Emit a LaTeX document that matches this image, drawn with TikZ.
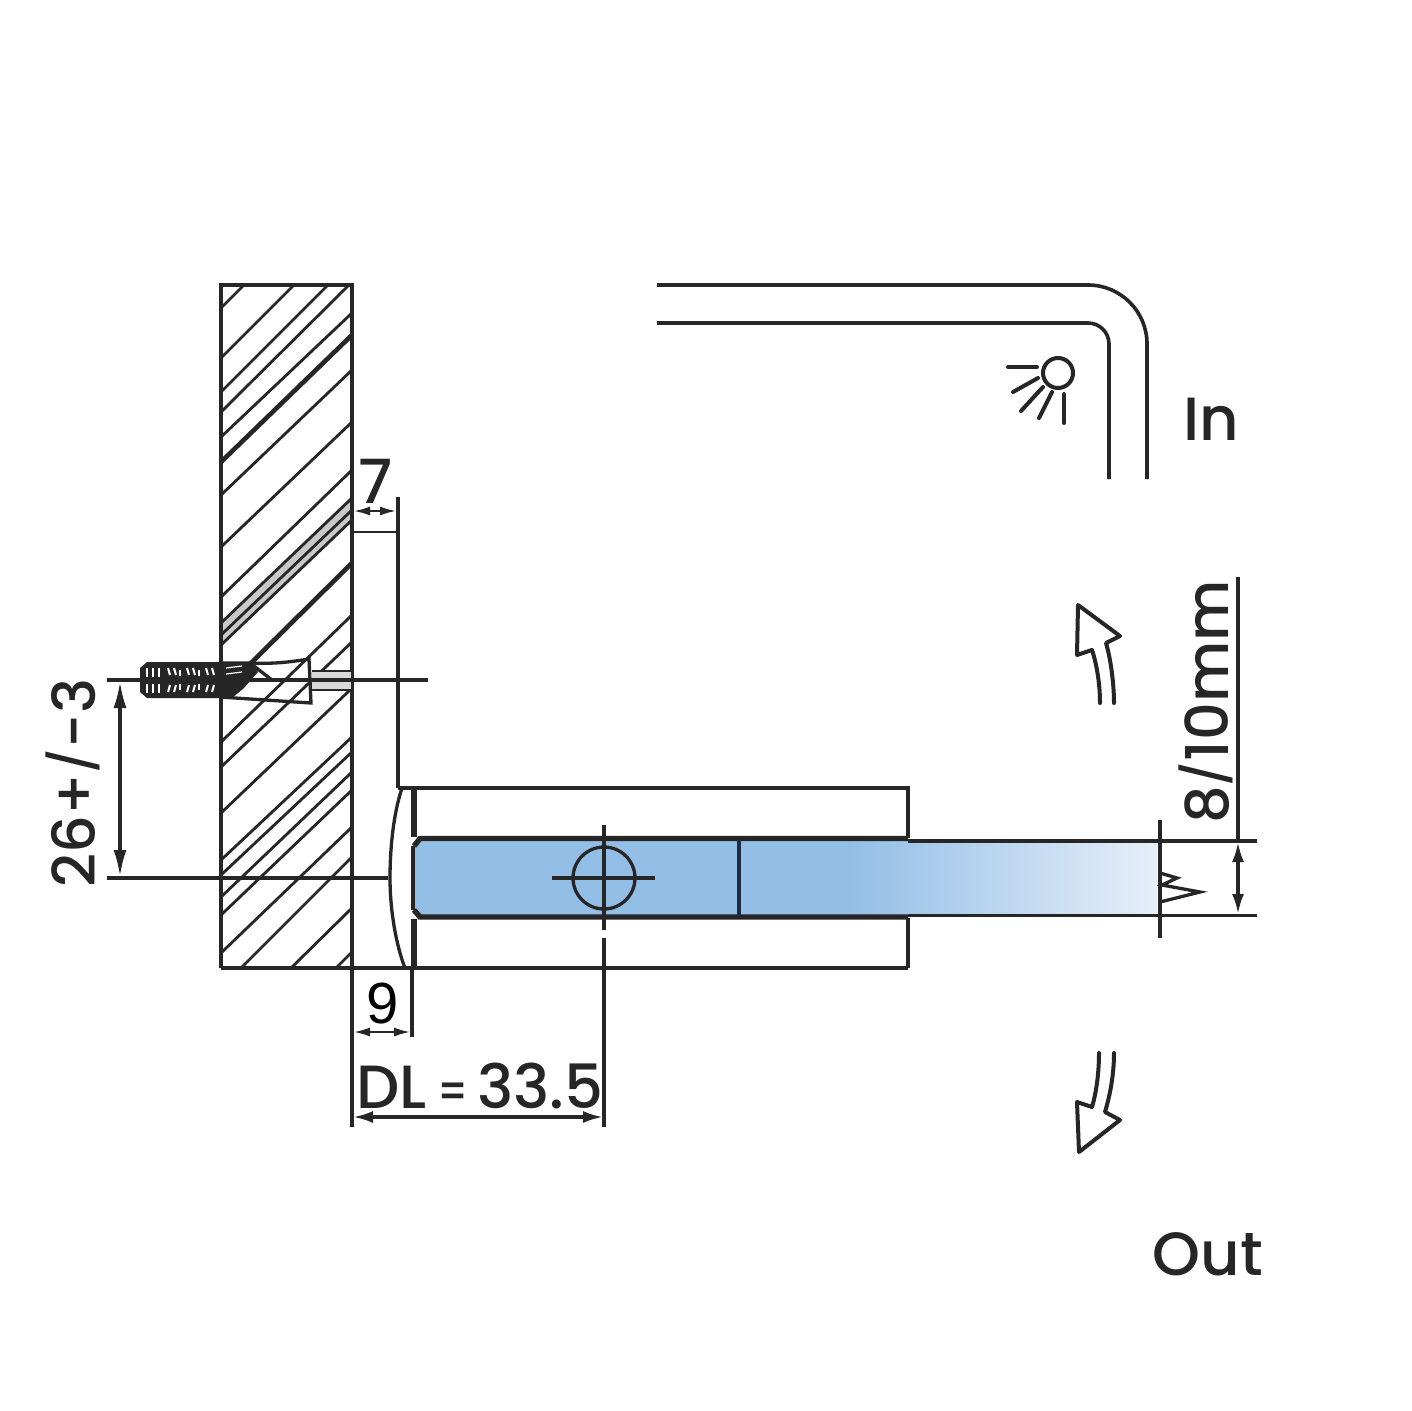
\documentclass[tikz,border=0pt]{standalone}
\usepackage{fontspec}
\usepackage{graphicx}
\setmainfont{Poppins}
\newfontfamily\armf{Liberation Sans}
\newfontfamily\medf{Poppins Medium}
\usetikzlibrary{arrows.meta}
\definecolor{ink}{HTML}{262626}
\definecolor{glassA}{HTML}{93BEE6}
\definecolor{glassB}{HTML}{E6EFF9}
\definecolor{bandgray}{HTML}{C9C9C9}
\definecolor{navy}{HTML}{1B2E45}
\newcommand{\smallslash}{\raisebox{4pt}{\scalebox{.82}{/}}}
\tikzset{
  ln/.style={draw=ink,line width=3.3pt},
  thin ln/.style={draw=ink,line width=2.8pt},
  thick ln/.style={draw=ink,line width=5.4pt},
  hatchline/.style={draw=ink,line width=2.8pt},
  hatchbold/.style={draw=ink,line width=4.6pt},
  dimbig/.style={draw=ink,line width=3.6pt,{Latex[length=27pt,width=13pt]}-{Latex[length=27pt,width=13pt]}},
  dimmid/.style={draw=ink,line width=3.2pt,{Latex[length=20pt,width=12pt]}-{Latex[length=20pt,width=12pt]}},
  dimsmall/.style={draw=ink,line width=2.8pt,{Latex[length=17pt,width=9pt]}-{Latex[length=17pt,width=9pt]}},
  lbl/.style={inner sep=0pt,text=ink,font=\medf\fontsize{61}{61}\selectfont},
  lblside/.style={inner sep=0pt,text=ink,rotate=90,font=\medf\fontsize{59}{59}\selectfont},
  sym/.style={draw=ink,line width=4pt,line cap=round,line join=round},
}
\begin{document}
\begin{tikzpicture}[x=1pt,y=-1pt]
\useasboundingbox (0,0) rectangle (1412,1410);
\fill[white] (0,0) rectangle (1412,1410);

% ---- wall hatching
\fill[bandgray] (221,623) -- (352,498) -- (352,520) -- (221,645) -- cycle;
\foreach \a/\b/\c/\d in {
  222/307/243/286, 221/358/293/286, 221/392/327/286, 221/412/348/286,
  221/437/352/313, 221/495/352/370, 221/547/352/422, 221/597/352/470,
  221/623/352/498, 221/635/352/510, 221/645/352/520,
  221/742/352/615, 221/767/352/642, 221/813/350/690,
  221/860/352/737, 221/875/352/752, 221/897/352/772, 221/915/352/790,
  221/953/352/827, 242/967/352/857, 292/967/352/908, 337/967/352/952}
  {\draw[hatchline] (\a,\b) -- (\c,\d);}
\draw[hatchbold] (221,462) -- (352,335);
\draw[hatchbold] (250,664) -- (352,563);

% ---- wall outline
\draw[ln] (221,968) -- (221,285) -- (352,285) -- (352,1127);
\draw[ln] (221,968) -- (908,968);

% ---- anchor sleeve
\draw[ln] (220,663) -- (252,663) .. controls (275,664) and (290,662) .. (309,659) -- (311,703) -- (220,697);
\draw[ln] (250,663) -- (272,680);
\fill[bandgray!70] (312,671) rectangle (351,690);
\draw[thin ln] (312,671) -- (352,671);
\draw[thin ln] (312,690) -- (352,690);

% ---- screw
\fill[ink] (147,662) -- (222,662) -- (222,698) -- (147,698) -- (140,692) -- (140,668) -- cycle;
\foreach \x in {147,153,159}{
  \draw[white,line width=2pt] (\x,668) -- (\x,677);
  \draw[white,line width=2pt] (\x,684) -- (\x,693);}
\foreach \x in {168,174,187,193,206,212}{
  \draw[white,line width=2pt] (\x,668) -- (\x+2,675);
  \draw[white,line width=2pt] (\x+2,685) -- (\x,692);}
\foreach \x in {180,199}{
  \draw[white,line width=2pt] (\x,670) -- (\x,676);
  \draw[white,line width=2pt] (\x,684) -- (\x,690);}
\fill[ink] (220,662) -- (252,662) -- (258,672) -- (244,688) -- (232,698) -- (220,698) -- cycle;
\foreach \y in {668,674}{\draw[white,line width=1.2pt] (226,\y) -- (242,\y-2);}

% ---- centre line of screw
\draw[ln] (107,680) -- (428,680);
\draw[ln] (107,878) -- (388,878);

% ---- 26 dim
\draw[dimbig] (120,681) -- (120,877);
\node[lblside] (dimA) at (73,783) {26+\smallslash-3};

% ---- plate and 7 dim
\draw[ln] (398,497) -- (398,788);
\draw[thin ln] (352,532) -- (398,532);
\draw[dimsmall] (353,511) -- (397,511);
\node[lbl] (dimB) at (376,481) {7};

% ---- glass
\fill[glassA] (414,846) -- (420,840) -- (850,840) -- (850,916) -- (420,916) -- (414,910) -- cycle;
\shade[left color=glassA,right color=glassB] (848,840) rectangle (1157,915);

% ---- clamp
\draw[ln] (398,788) -- (908,788) -- (908,838);
\draw[ln] (908,918) -- (908,968);
\draw[ln] (402,788) .. controls (393,815) and (390,850) .. (390,878) .. controls (390,910) and (396,945) .. (405,968);
\draw[thick ln] (414,790) -- (414,837);
\draw[thick ln] (414,919) -- (414,968);
\draw[line width=4pt,draw=ink] (413,846) -- (413,910);
\draw[thick ln] (414,846) -- (420,838.5) -- (908,838.5);
\draw[thick ln] (414,910) -- (420,917) -- (908,917);
\draw[ln] (908,841) -- (1257,841);
\draw[ln] (908,915.5) -- (1257,915.5);
\draw[draw=navy,line width=4pt] (739,840) -- (739,916);

% ---- hole
\draw[ln] (604,878) circle (31);
\draw[ln] (552,878) -- (655,878);
\draw[ln] (604,825) -- (604,930);
\draw[ln] (604,938) -- (604,1127);

% ---- break mark and glass end
\draw[ln] (1160,820) -- (1160,938);
\draw[ln,line join=miter] (1160,873) -- (1177,878) -- (1162,885) -- (1200,892) -- (1160,902);

% ---- 8/10 dim
\draw[ln] (1238,577) -- (1238,842);
\draw[dimmid] (1238,842) -- (1238,914);
\node[lblside] (dimC) at (1206,702) {8\smallslash10mm};

% ---- 9 dim
\draw[ln] (412,968) -- (412,1037);
\draw[dimsmall] (353,1032) -- (411,1032);
\node[inner sep=0pt,text=black,font=\armf\fontsize{58}{58}\selectfont] (dimD) at (383,1004) {9};

% ---- DL dim
\draw[dimmid] (353,1117) -- (603,1117);
\node[lbl] (dimE) at (480,1086) {DL\kern10pt\scalebox{.66}[.8]{=}\kern9pt 33.5};

% ---- door
\draw[ln,line width=3.6pt] (657,285) -- (1088,285) .. controls (1120.6,285) and (1147,311.4) .. (1147,344) -- (1147,479);
\draw[ln,line width=3.6pt] (657,323) -- (1088,323) .. controls (1099.6,323) and (1109,332.4) .. (1109,344) -- (1109,479);

% ---- lamp
\draw[sym] (1058,373) circle (15);
\draw[sym] (1008,367) -- (1037,367);
\draw[sym] (1013,392) -- (1038,378);
\draw[sym] (1021,411) -- (1043,387);
\draw[sym] (1039,418) -- (1052,392);
\draw[sym] (1064,394) -- (1064,423);

% ---- swing arrows
\draw[sym] (1100,703) .. controls (1100,685) and (1097,665) .. (1092,650) -- (1077,655) -- (1078,605) -- (1120,636) -- (1106,643) .. controls (1111,660) and (1114,685) .. (1114,703);
\draw[sym] (1099,1053) .. controls (1099,1070) and (1097,1090) .. (1092,1107) -- (1077,1102) -- (1079,1152) -- (1120,1120) -- (1105,1112) .. controls (1110,1095) and (1114,1075) .. (1114,1053);

% ---- labels
\node[lbl] (lblIn) at (1211,419) {In};
\node[lbl] (lblOut) at (1208,1254) {Out};
\end{tikzpicture}
\end{document}
